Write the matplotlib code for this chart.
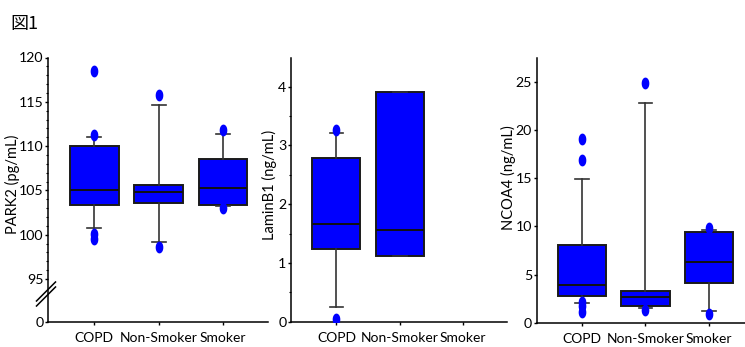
import numpy as np
import matplotlib
matplotlib.use("Agg")
import matplotlib.pyplot as plt
from matplotlib.path import Path
from matplotlib.ticker import FixedLocator
from matplotlib.lines import Line2D

plt.rcParams['font.family'] = ['Lato', 'DejaVu Sans']

categories = ["COPD", "Non-Smoker", "Smoker"]

# PARK2 (pg/mL)
park2_q1 = [103.3, 103.6, 103.3]
park2_med = [105.0, 104.8, 105.3]
park2_q3 = [110.0, 105.6, 108.5]
park2_lo = [100.8, 99.2, 103.2]
park2_hi = [111.05, 114.65, 111.35]
park2_fliers = [[118.45, 111.2, 100.1, 99.55], [115.75, 98.65], [111.8, 103.05]]
park2_yticks = [90.15, 95, 100, 105, 110, 115, 120]
park2_yticklabels = ["0", "95", "100", "105", "110", "115", "120"]

# LaminB1 (ng/mL)
lamin_q1 = [1.23, 1.12]
lamin_med = [1.66, 1.56]
lamin_q3 = [2.79, 3.90]
lamin_lo = [0.255, 1.12]
lamin_hi = [3.21, 3.90]
lamin_fliers = [[3.26, 0.04], []]
lamin_yticks = [0, 1, 2, 3, 4]

# NCOA4 (ng/mL)
ncoa_q1 = [2.77, 1.73, 4.09]
ncoa_med = [3.88, 2.67, 6.27]
ncoa_q3 = [8.03, 3.25, 9.45]
ncoa_lo = [2.04, 1.49, 1.21]
ncoa_hi = [14.96, 22.78, 9.6]
ncoa_fliers = [[19.04, 16.9, 2.2, 1.7, 1.14], [24.93, 1.35], [9.87, 0.87]]
ncoa_yticks = [0, 5, 10, 15, 20, 25]

BLUE = "#0000FF"
theta = np.linspace(0, 2 * np.pi, 60)
ell = Path(np.column_stack([0.6 * np.cos(theta), np.sin(theta)]), closed=True)

W, H = 745, 347
fig = plt.figure(figsize=(W / 100, H / 100), dpi=100)


def px_axes(left, right, top, bottom):
    return fig.add_axes([left / W, 1 - bottom / H, (right - left) / W, (bottom - top) / H])


def draw(ax, q1, med, q3, lo, hi, fliers):
    stats = []
    for i in range(len(q1)):
        stats.append(dict(q1=q1[i], med=med[i], q3=q3[i], whislo=lo[i], whishi=hi[i],
                          fliers=fliers[i]))
    ax.bxp(stats, positions=list(range(len(q1))), widths=0.76, patch_artist=True,
           boxprops=dict(facecolor=BLUE, edgecolor="#1a1a1a", linewidth=1.4),
           medianprops=dict(color="#111111", linewidth=1.4),
           whiskerprops=dict(color="#333333", linewidth=1.2),
           capprops=dict(color="#333333", linewidth=1.2),
           capwidths=0.22,
           flierprops=dict(marker=ell, markersize=7.5, markerfacecolor=BLUE,
                           markeredgecolor=BLUE, linestyle="none"),
           manage_ticks=False, zorder=3)
    ax.set_xlim(-0.72, 2.7)
    ax.set_xticks(range(3))
    ax.set_xticklabels(categories, fontsize=10)
    for s in ["top", "right"]:
        ax.spines[s].set_visible(False)
    for s in ["left", "bottom"]:
        ax.spines[s].set_linewidth(1.1)
    ax.tick_params(axis="x", length=2.5, width=1, pad=5)
    ax.tick_params(axis="y", which="major", length=2.5, width=1, labelsize=10.2, pad=0.8)
    ax.tick_params(axis="y", which="minor", length=1.8, width=0.8)


# Panel 1
ax1 = px_axes(48, 268, 57.5, 322)
draw(ax1, park2_q1, park2_med, park2_q3, park2_lo, park2_hi, park2_fliers)
ax1.set_ylim(park2_yticks[0], 120)
ax1.set_yticks(park2_yticks)
ax1.set_yticklabels(park2_yticklabels)
ax1.yaxis.set_minor_locator(FixedLocator(np.arange(96, 120, 1)))
ax1.set_ylabel("PARK2 (pg/mL)", fontsize=10.5)
ax1.yaxis.set_label_coords(-0.128, 0.52)
# break marks (pixel coordinates)
for dy in (0, 5):
    x0, y0, x1, y1 = 36.5, 306 - dy, 55.5, 287 - dy
    fig.add_artist(Line2D([x0 / W, x1 / W], [1 - y0 / H, 1 - y1 / H],
                          color="black", lw=1.1, transform=fig.transFigure))

# Panel 2
ax2 = px_axes(291, 507, 58.3, 321.7)
draw(ax2, lamin_q1, lamin_med, lamin_q3, lamin_lo, lamin_hi, lamin_fliers)
ax2.set_ylim(0, 4.48)
ax2.set_yticks(lamin_yticks)
ax2.yaxis.set_minor_locator(FixedLocator(np.arange(0.5, 4.6, 1.0)))
ax2.set_ylabel("LaminB1 (ng/mL)", fontsize=10.5)
ax2.yaxis.set_label_coords(-0.065, 0.52)

# Panel 3
ax3 = px_axes(536.7, 753, 58.3, 322.7)
draw(ax3, ncoa_q1, ncoa_med, ncoa_q3, ncoa_lo, ncoa_hi, ncoa_fliers)
ax3.set_ylim(0, 27.46)
ax3.set_yticks(ncoa_yticks)
ax3.set_ylabel("NCOA4 (ng/mL)", fontsize=10.5)
ax3.yaxis.set_label_coords(-0.095, 0.55)

fig.text(10 / W, 1 - 24 / H, "図1", fontsize=13, va="center", ha="left",
         family=["Noto Sans CJK JP", "DejaVu Sans"])

fig.savefig("out.png", dpi=100)
